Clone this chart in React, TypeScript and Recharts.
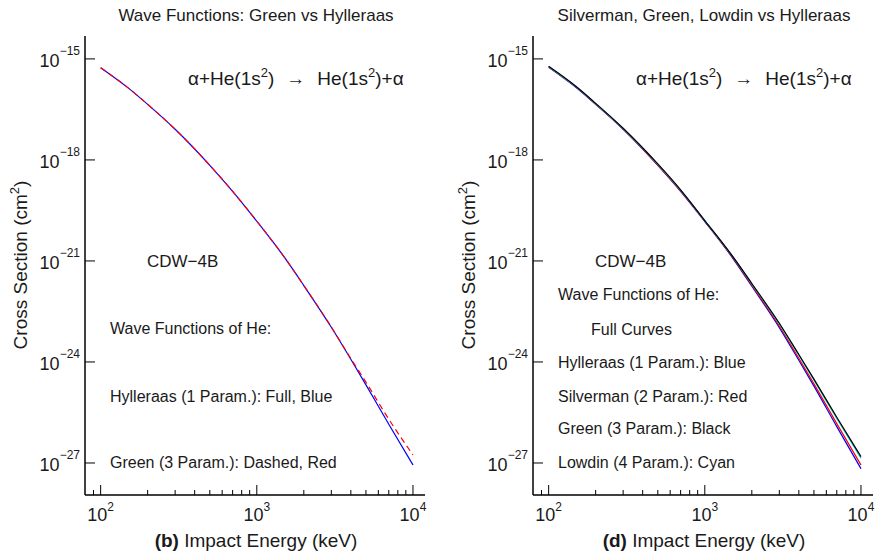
import React from "react"
import { Line, LineChart, XAxis, YAxis } from "recharts"

// impact energies (keV)
const energies = [100, 150, 200, 300, 500, 700, 1000, 1500, 2000, 3000, 4000, 5000, 7000, 10000]

// panel (b): cross sections (cm^2)
const hylleraasB = [5.5e-16, 1.38e-16, 4.47e-17, 8.13e-18, 6.92e-19, 1.17e-19, 1.51e-20, 1.29e-21, 1.86e-22, 1.07e-23, 1.2e-24, 2.09e-25, 1.41e-26, 8.71e-28]
const greenB = [5.5e-16, 1.38e-16, 4.47e-17, 8.13e-18, 6.92e-19, 1.17e-19, 1.51e-20, 1.29e-21, 1.86e-22, 1.1e-23, 1.26e-24, 2.51e-25, 2.0e-26, 1.74e-27]

// panel (d)
const hylleraasD = [5.62e-16, 1.41e-16, 4.47e-17, 8.13e-18, 6.92e-19, 1.17e-19, 1.48e-20, 1.26e-21, 1.78e-22, 1.05e-23, 1.12e-24, 1.91e-25, 1.2e-26, 6.76e-28]
const silvermanD = [5.75e-16, 1.45e-16, 4.57e-17, 8.32e-18, 7.08e-19, 1.2e-19, 1.51e-20, 1.32e-21, 1.91e-22, 1.17e-23, 1.29e-24, 2.24e-25, 1.48e-26, 8.71e-28]
const greenD = [6.03e-16, 1.51e-16, 4.79e-17, 8.71e-18, 7.59e-19, 1.29e-19, 1.58e-20, 1.41e-21, 2.14e-22, 1.41e-23, 1.66e-24, 3.09e-25, 2.29e-26, 1.55e-27]
const lowdinD = [5.89e-16, 1.48e-16, 4.68e-17, 8.51e-18, 7.41e-19, 1.26e-19, 1.58e-20, 1.41e-21, 2.09e-22, 1.35e-23, 1.58e-24, 2.88e-25, 2.09e-26, 1.38e-27]

// axis ticks
const xMajor = [100, 1000, 10000]
const xTicks = [90, 100, 200, 300, 400, 500, 600, 700, 800, 900, 1000, 2000, 3000, 4000, 5000, 6000, 7000, 8000, 9000, 10000]
const yTicks = [1e-27, 1e-24, 1e-21, 1e-18, 1e-15]
const xDomain = [79.4, 11940]
const yDomain = [1.12e-28, 4.79e-15]

const FONT = "'Liberation Sans', Arial, sans-serif"
const INK = "#1a1a1a"

const dataB = energies.map((e, i) => ({ e, hyl: hylleraasB[i], grn: greenB[i] }))
const dataD = energies.map((e, i) => ({ e, hyl: hylleraasD[i], sil: silvermanD[i], grn: greenD[i], low: lowdinD[i] }))

function expOf(v: number) {
  return Math.round(Math.log10(v))
}

function BottomTick(props: any) {
  const { x, y, payload } = props
  const v = payload.value
  const major = xMajor.includes(v)
  return (
    <g>
      <line x1={x} y1={y} x2={x} y2={y - (major ? 10 : 5)} stroke="#000" strokeWidth={1} />
      {major && (
        <text x={x} y={y + 26} textAnchor="middle" fontSize={18} fill={INK} fontFamily={FONT}>
          10<tspan dy={-10} fontSize={12}>{expOf(v)}</tspan>
        </text>
      )}
    </g>
  )
}

function TopTick(props: any) {
  const { x, y, payload } = props
  const major = xMajor.includes(payload.value)
  return <line x1={x} y1={y} x2={x} y2={y + (major ? 10 : 5)} stroke="#000" strokeWidth={1} />
}

function LeftTick(props: any) {
  const { x, y, payload } = props
  const e = expOf(payload.value)
  return (
    <g>
      <line x1={x} y1={y} x2={x + 10} y2={y} stroke="#000" strokeWidth={1} />
      <text x={x - 5} y={y + 8} textAnchor="end" fontSize={18} fill={INK} fontFamily={FONT}>
        10<tspan dy={-12} fontSize={12}>{"\u2212" + Math.abs(e)}</tspan>
      </text>
    </g>
  )
}

function RightTick(props: any) {
  const { x, y } = props
  return <line x1={x} y1={y} x2={x - 10} y2={y} stroke="#000" strokeWidth={1} />
}

function Frame({ children, data }: { children: React.ReactNode; data: any[] }) {
  return (
    <LineChart width={440} height={553} data={data} margin={{ top: 36, right: 15, bottom: 0, left: 0 }}>
      <XAxis dataKey="e" type="number" scale="log" domain={xDomain} allowDataOverflow ticks={xTicks} interval={0}
        height={58} tickSize={0} tickMargin={0} tick={<BottomTick />} axisLine={{ stroke: "#000", strokeWidth: 1.5 }} tickLine={false} />
      <XAxis xAxisId="top" orientation="top" dataKey="e" type="number" scale="log" domain={xDomain} allowDataOverflow ticks={xTicks} interval={0}
        height={0} tickSize={0} tickMargin={0} tick={<TopTick />} axisLine={{ stroke: "#000", strokeWidth: 1.5 }} tickLine={false} />
      <YAxis type="number" scale="log" domain={yDomain} allowDataOverflow ticks={yTicks} interval={0}
        width={85} tickSize={0} tickMargin={0} tick={<LeftTick />} axisLine={{ stroke: "#000", strokeWidth: 1.5 }} tickLine={false} />
      <YAxis yAxisId="right" orientation="right" type="number" scale="log" domain={yDomain} allowDataOverflow ticks={yTicks} interval={0}
        width={0} tickSize={0} tickMargin={0} tick={<RightTick />} axisLine={{ stroke: "#000", strokeWidth: 1.5 }} tickLine={false} />
      {children}
    </LineChart>
  )
}

function T({ x, y, size = 16, children, anchor = "start" }: any) {
  return (
    <text x={x} y={y} fontSize={size} fill={INK} fontFamily={FONT} textAnchor={anchor}>
      {children}
    </text>
  )
}

function PanelText({ dx, title, tag }: { dx: number; title: string; tag: string }) {
  return (
    <g transform={`translate(${dx},0)`}>
      <T x={256} y={21} size={17} anchor="middle">{title}</T>
      <text transform="translate(27,265) rotate(-90)" fontSize={19} fill={INK} fontFamily={FONT} textAnchor="middle">
        Cross Section (cm<tspan dy={-8} fontSize={13}>2</tspan><tspan dy={8}>)</tspan>
      </text>
      <text x={256} y={547} fontSize={19} fill={INK} fontFamily={FONT} textAnchor="middle">
        <tspan fontWeight="bold">({tag})</tspan> Impact Energy (keV)
      </text>
      <text x={188} y={85} fontSize={19} fill={INK} fontFamily={FONT}>
        α+He(1s<tspan dy={-8} fontSize={13}>2</tspan><tspan dy={8}>)</tspan>
        <tspan dx={12}>→</tspan>
        <tspan dx={12}>He(1s</tspan><tspan dy={-8} fontSize={13}>2</tspan><tspan dy={8}>)+α</tspan>
      </text>
    </g>
  )
}

export default function App() {
  return (
    <div style={{ position: "absolute", left: 0, top: 0, width: 877, height: 553, background: "#fff" }}>
      <div style={{ position: "absolute", left: 0, top: 0 }}>
        <Frame data={dataB}>
          <Line dataKey="hyl" type="monotone" stroke="#0000ff" strokeWidth={1.2} dot={false} isAnimationActive={false} />
          <Line dataKey="grn" type="monotone" stroke="#ff0000" strokeWidth={1.2} strokeDasharray="6 4" dot={false} isAnimationActive={false} />
        </Frame>
      </div>
      <div style={{ position: "absolute", left: 448, top: 0 }}>
        <Frame data={dataD}>
          <Line dataKey="hyl" type="monotone" stroke="#0000ff" strokeWidth={1.2} dot={false} isAnimationActive={false} />
          <Line dataKey="sil" type="monotone" stroke="#ff0000" strokeWidth={1.2} dot={false} isAnimationActive={false} />
          <Line dataKey="low" type="monotone" stroke="#00cccc" strokeWidth={1.2} dot={false} isAnimationActive={false} />
          <Line dataKey="grn" type="monotone" stroke="#000000" strokeWidth={1.2} dot={false} isAnimationActive={false} />
        </Frame>
      </div>
      <svg width={877} height={553} style={{ position: "absolute", left: 0, top: 0, pointerEvents: "none" }}>
        <PanelText dx={0} title="Wave Functions: Green vs Hylleraas" tag="b" />
        <PanelText dx={448} title="Silverman, Green, Lowdin vs Hylleraas" tag="d" />
        <T x={147} y={267} size={17}>CDW−4B</T>
        <T x={110} y={334}>Wave Functions of He:</T>
        <T x={110} y={402}>Hylleraas (1 Param.): Full, Blue</T>
        <T x={110} y={468}>Green (3 Param.): Dashed, Red</T>
        <T x={595} y={267} size={17}>CDW−4B</T>
        <T x={558} y={300}>Wave Functions of He:</T>
        <T x={591} y={335}>Full Curves</T>
        <T x={558} y={368}>Hylleraas (1 Param.): Blue</T>
        <T x={558} y={402}>Silverman (2 Param.): Red</T>
        <T x={558} y={434}>Green (3 Param.): Black</T>
        <T x={558} y={468}>Lowdin (4 Param.): Cyan</T>
      </svg>
    </div>
  )
}
